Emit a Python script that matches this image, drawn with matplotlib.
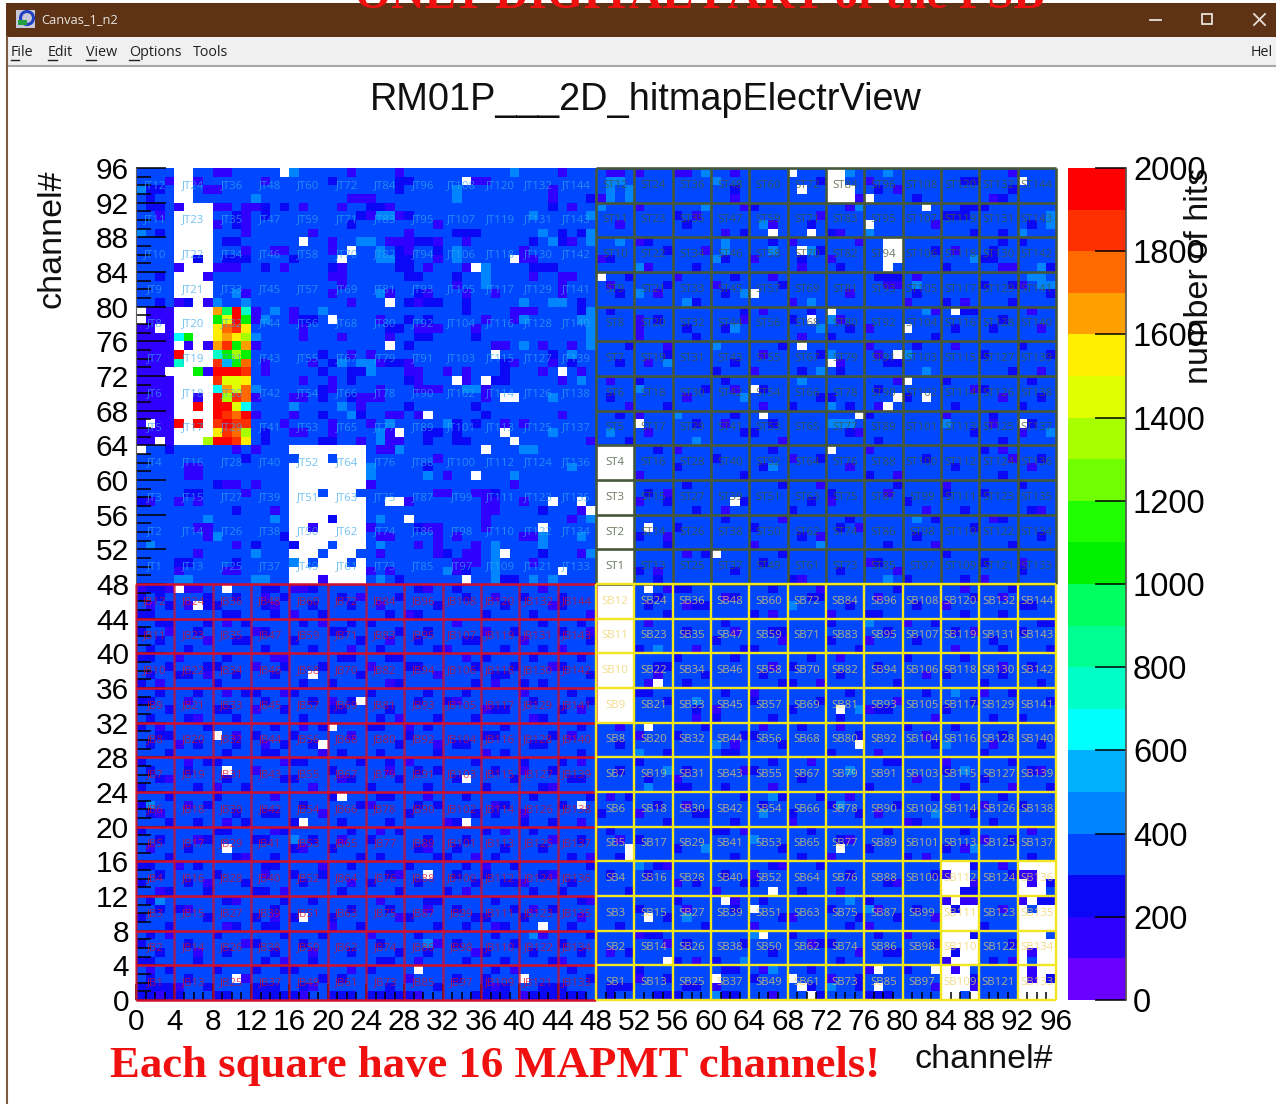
import matplotlib
matplotlib.use("Agg")
import matplotlib.pyplot as plt
import numpy as np
from matplotlib.colors import BoundaryNorm, ListedColormap
from matplotlib.patches import Circle, Rectangle

FIG_W, FIG_H = 1276, 1104
AX_LEFT, AX_RIGHT, AX_TOP, AX_BOTTOM = 136, 1056, 168, 1000

BAND_COLORS = [
    "#6a00ff", "#3000ff", "#0a08f5", "#0048ff", "#0084ff",
    "#00b0ff", "#00ffff", "#00ffc8", "#00ff90", "#00ff60",
    "#00f000", "#20ff00", "#70ff00", "#a8ff00", "#e0ff00",
    "#ffee00", "#ffa000", "#ff6a00", "#ff3000", "#ff0000",
]
BAND_EDGES = list(range(0, 2100, 100))
COLORBAR_TICKS = [0, 200, 400, 600, 800, 1000, 1200, 1400, 1600, 1800, 2000]
AXIS_TICKS = list(range(0, 100, 4))

# typical hits of a bin, and the bins that differ: row counted from the top, "a-b" = bin range
BASE_HITS = 350
DARK_HITS = 250
VIOLET_HITS = 150
LIGHT_HITS = 450

EMPTY_BINS = {
    0: "4-5 15 68 72-73", 1: "4-5 34 72-73 92", 2: "4-5 69 72-74", 3: "4-5 72-74 76",
    4: "5-7 82", 5: "4-7", 6: "4-7 76", 7: "4-7 66 70", 8: "4-7 17 78-79", 9: "4-7 22 69 78-79",
    10: "4-5 7 21 39 78-79", 11: "5-7 35 78", 12: "4-6 48", 13: "4-7", 14: "4-7 64", 15: "6 26",
    16: "0 72 85", 17: "0 20 70", 18: "2 80", 19: "", 20: "26 69", 21: "37 79", 22: "72", 23: "3 44",
    24: "33 36 80", 25: "64", 26: "38-39 79 82", 27: "78", 28: "30 65 75", 29: "1 52 92", 30: "27 38", 31: "2 39",
    32: "0 16-23 36 48-51 72", 33: "17-19 21-23 48-51", 34: "16-23 48-51", 35: "16-23 35 48-51",
    36: "16-23 48-51", 37: "16-18 20-22 48-51", 38: "16-23 26-27 43 46 48-51 62", 39: "16-23 47 48-51",
    40: "16-19 21-23 28 48-51", 41: "16-17 19-23 42 48-51 53", 42: "16-23 48-51", 43: "17-19 21-23 48-51",
    44: "16-18 20-22 38 48-51 60", 45: "17 19-21 23 48-51", 46: "16-23 44 48-51", 47: "16-18 20-23 34 48-51",
    48: "4 9 48-51 53", 49: "48-51", 50: "6 48-51", 51: "48-51", 52: "48-51", 53: "48-51", 54: "48-51", 55: "48-51",
    56: "48-51", 57: "48-51", 58: "18 48-51", 59: "48-51 54", 60: "48-51", 61: "23 48-51", 62: "48-51 73", 63: "48-51",
    64: "20 53", 65: "8", 66: "19 75", 69: "9", 70: "34", 72: "21", 73: "46", 75: "17 34",
    78: "9 51 73", 79: "51", 80: "84-86 92-95", 81: "30 85-86 94-95", 82: "84-86 92 94", 83: "66 84-85 92-94",
    84: "61 85 93", 85: "64 84 86-87 92 94-95", 86: "17 53 84-87 92-95", 87: "42 84-87 92-95", 88: "65 84-86 92-94",
    89: "84-87 92-95", 90: "84 86-87 92 94-95", 91: "55 85-87 92 94-95", 92: "29 77 83 84 86 92 94-95",
    93: "10 40 60 68 84-86 92 94", 94: "69 77 84-86 92-95", 95: "70 84-85 87 92-95",
}
# bins 4..11 of the hot patch, one letter per bin
HOT_START = 4
HOT_ROWS = {
    16: "____atRT", 17: "____GyRG", 18: "____YoOY", 19: "cG__YaYg", 20: "_v_vaOGa", 21: "R___TGgG",
    22: "T___O*Go", 23: "__GvRRRO", 24: "____OyyY", 25: "____cayo", 26: "__v_RgOo",
    27: "__R_RRyc", 28: "____ROoR", 29: "R_R_OROO", 30: "____YOog", 31: "___gRROY",
}
HOT_LEVELS = {
    "_": 0, "v": 150, "*": 550, "c": 650, "T": 750, "t": 950, "G": 1050, "g": 1350, "y": 1450,
    "Y": 1550, "a": 1650, "o": 1750, "O": 1850, "R": 1950,
}
DARK_BINS = {
    1: "20 27-28 49 71 86-87", 2: "1-2 27 62 77 91", 3: "1 47 81 90", 4: "1-2 13 15 24-25 43 64 86-88", 5: "10 13 23 28 56 84-86",
    6: "10 22 57 70 93", 7: "2 33-35 44 46 63 72 87 90", 8: "9-10 29-30 41 44 53 66 90 92", 9: "27 31 55 71 83 89",
    10: "6 9-11 16 27-28 49 60-61 69 87-89", 11: "13 20 27-28 41-43 58 73 84 94-95", 12: "2 28-29 33 51 56 62 77-79 93",
    13: "55 67 88 91", 14: "29 50 61 74 81 95", 15: "2 5 28 30-31 34 46 58 84 91", 16: "34 46 49 63 70 86-87", 17: "17-18 28 30 54 68 90",
    18: "26-27 57 61 74 85 89", 19: "29-30 35 47 58 72 83", 20: "28 51 67 81 92", 21: "19 43 55 71 88 95", 22: "20-21 26-27 38 45 50 62 78-79",
    23: "19 22-23 38 60 69 73 91", 24: "22 28 37-38 52 61 84 93", 25: "19 59 65 77 88", 26: "19 22 49 57 71-72 80 94", 27: "28 35 55 68 74 85 92",
    28: "19 23 36 50 62 75-76 89", 29: "33 35 58 66 84 93", 30: "13 30-31 33 53 63-64 74 87", 31: "13 19-20 30 33-34 51 77 90",
    32: "3 54 66 76 88", 33: "11 60 71 82 94", 34: "30 56 65 74 85", 35: "49 63 76 90", 36: "8 57 67 79 92", 37: "5-6 37 53 72 84 88",
    38: "0 40 55 63 70 80", 39: "10 42 58 68 86 93", 40: "20 61 74 83 90", 41: "29 56 64 73 87", 42: "15 52 69 81 94",
    43: "12 16 55 71 78 91", 44: "32 42 59 67 84", 45: "4-5 10 41 50 65 77 88", 46: "34 52 62 73 92", 47: "27 38-39 54 68 80 86",
    48: "1-2 5 13-14 17-18 29 33 56-57 66 79 91", 49: "0 2 7 10 15 21 27 34 40 44 54 62 70-71 87", 50: "3 7-8 13 18 22 31 38 44 53 58-59 74 81 92-93",
    51: "0-1 9-10 14 19 26 29 36 41 55 64 76-77 86 90", 52: "2-3 7 11 17 22 24 33 42 46 49 61 72 83 94-95", 53: "0 6 12-13 20-21 27 30 39 44 57 66-67 78 85 92",
    54: "2 10-11 16 23 29 34-35 47 51 60 72 81 89", 55: "1 5 13 18 25 31 38 42 52 63-64 75 90 95", 56: "0-1 9 21-22 26-27 36 41 46 56 62 70 80 86",
    57: "3 7-8 15 19 28-29 35 39 44 54-55 68 77 93", 58: "1 4-5 10 14 23 31 37-38 47 59 65 73 84 90", 59: "0 8 17 20 27 35 40 42 50 57 67-68 79 88 94",
    60: "2 6 11-12 16 24 30 34 45 52-53 61 74 82 91", 61: "0-1 13 18 22 29 32-33 41 47 55 64 71 87 95", 62: "3 8-9 15 20-21 26 37-38 44 58 68 77-78 84",
    63: "1 5 10 17 25 31 35 42 51 60 66 73 89 92", 64: "0 7 14 19 24-25 30 38 46 53 59 69 80 85", 65: "2-3 8 12 16 22 28 36-37 43 56 63-64 75 90",
    66: "1 6 10 15 18 27 33-34 41-42 50 60 67 83 94", 67: "3 9 13-14 21 25 31 38 46 55 61-62 72 88", 68: "0 7-8 16-17 23 26 35 40 44 52 66 78-79 91",
    69: "1 5 12 20 29 31 37 43 50 57 64 74 84 93", 70: "2 9 15-16 22 27 33 39 45-46 53 69 81 88", 71: "0 6 11 18 24 30 36 42 56-57 61 76 86 95",
    72: "3 8 14 20 25-26 34 41 47 51 63 67 71 83 90", 73: "0-1 7 17 23 29 31 38 44 54 65 72 79 92", 74: "1 10 13-14 19 28 35 37 48 58-59 68 75 87",
    75: "3 6 11 16 21 26 32-33 40 43 55 62 81 89", 76: "0 8-9 15 22 27 36 41 49 60-61 70 78 86", 77: "2 7 12-13 18 24 30 34 46 52 64 73-74 91",
    78: "1 5 16 20 29 33 38 42 56 59 67 76 84", 79: "3 10 14 23 25 31-32 37 45 50 62 69 80 93", 80: "0-1 6 13-14 22 28 34 39 47 54 66 71 87",
    81: "2 8 16 19 26 33 36 42 49 53 61 74 83 91", 82: "0 5 11 17 24 29 35 38-39 45 58 63-64 78 95", 83: "3 7 12-13 21 27 32 41 44 51 60 69 86-87",
    84: "1 9 15 18 25 30-31 37 46-47 56 65 76 94-95", 85: "2 4 14 22 26 33 39 43 52 62 72 81 85", 86: "0 7 12 16 20 28 35-36 40 55 67 75 79",
    87: "3 10 13-14 23 31 34 38 45 50 59 64 74 88", 88: "1 8 15 19 24 29 37 42 47 53-54 68 77 87", 89: "0 5 12 17 25 33 39 44 57 63 71-72 83 91",
    90: "2 9 14 22 27 30 36 41 46 51 66 78-79 85", 91: "0-1 6 13 18 25-26 34 38 43 56 60 73 89", 92: "3 8 12 15-16 24 29 37 45 52 61-62 70 80",
    93: "1 5 10 19 21 28 33 36 47 55 64 75 87 95", 94: "0-3 7 12-14 17 26 31 36-38 42-44 49-51 57-58 69-70 75 85", 95: "0-4 8-9 12-16 20-22 24-28 35-38 41-46 49 54-56 60-62 70-71 76-78",
}
VIOLET_BINS = {
    0: "8-9 22 27 44 49-50 52 56-57 62 91", 1: "3 6 13 35-36 60 76", 2: "7-8 43 51 69 79", 3: "22-23 24 43 48 62 75 89", 4: "4 8-9 11-12 17 21 26 45 52 63 74", 5: "2 11 24 27 58 71",
    6: "8 11 31 50 66 83", 7: "11 18 28 47 61 73", 8: "20 26-28 31 34 45 52 68 75", 9: "11 14-15 20 28 40 59 70 85", 10: "31 40-41 48 64 72",
    11: "4 8-10 15 21 30 34 53 69 90-91", 12: "7 20-21 41 44-45 56 66 81", 13: "21 33 44 49 60 78-79 92", 14: "11 20 26 30 34 37 44 54 74", 15: "4 7 22 29 57 68 80 86",
    16: "0-3 12 16 39-41 65 83 93", 17: "1-3 12 16 25 36 39 52 63 73", 18: "0-1 3 17 29-31 35 52 76 94", 19: "0-3 17 21 26 52 69", 20: "0-3 12 37-38 42 45 55 76 85",
    21: "0-3 22 24 65 77", 22: "0-3 13 18 25 28 39 43 53 73", 23: "0-2 13 28-29 32 34 42 46 64 94", 24: "0-3 17 20 29 34 44 49 79", 25: "0-3 20 25 29-31 36 62 87",
    26: "0-3 12 16-17 23 24-25 36 57 90", 27: "0-3 23 51 65 77", 28: "0-3 12 16 26-27 29 44 52 84", 29: "0-3 15 20 24 38 40 61 89", 30: "0-3 16-17 20 26 53 75 92", 31: "0-3 23 26-27 47 67",
    32: "10 12 25-26 56 76 90", 33: "31 68 91", 34: "5-6 50 74 93", 35: "5-6 32 52 79", 36: "9-10 12 24 39 71 84", 37: "11 31-32 35-36 55 78",
    38: "1 4 6 28 36-37 40 52 72", 39: "14 36-37 46 61 82 94", 40: "36 45 67 89", 41: "6-7 18 24 30-31 36 75", 42: "7 25-26 31 33 40-41 55 71", 43: "10 29 31 35 64 83",
    44: "6 25 31 34-35 46 57", 45: "33-35 41 76 92", 46: "4 9-10 24 26 33 54 79", 47: "19 69 88",
    48: "0 3 5-6 16-17 30 42 55 71 86", 49: "13 23 37 61 77 90", 50: "1 5 14 25 43 57 84", 51: "16 28 47 66 72", 52: "9 19 33 53 80",
    53: "3 12 36 47 62 87", 54: "7 26 40 67 76", 55: "22 32 44 58 85", 56: "4 14-15 34 49 73", 57: "12 24 43 66 90", 58: "7 18 31 54 82",
    59: "2 26 37 53 71", 60: "9 15 40 64 88", 61: "5 20 33 49 79", 62: "12 36 46 60 76", 63: "6 27 41 58 83", 64: "2 17 28 50 65 73",
    65: "10 22 45 52 82", 66: "4 13 31 62 89", 67: "19 36 52 77", 68: "5 15 28 46 70 84", 69: "12 26 40 63 94", 70: "3 21 34 56 81", 71: "8 18 43 66 91",
    72: "14 30 49 74 85", 73: "5 24 37 57 88", 74: "2 19 40 52 77", 75: "9 32 46 68 80", 76: "14 25 38 63 93", 77: "6 21 43 50 74 88",
    78: "1 17 30 59 86", 79: "11 35 47 72 82", 80: "4 19 36 55 67 90", 81: "13 27 43 64 84 92-93", 82: "7 22 40 56 79 87 93", 83: "2 15 34 60 73",
    84: "10 25 47 62 84 86-87 92", 85: "5 30 41 57 77 90", 86: "14 27 46 68 83", 87: "9 20 37 64 76", 88: "3 24 42 52 80", 89: "11 31 55 70 86",
    90: "6 18 35 49 75 93", 91: "15 29 44 58 84 91", 92: "1 22 39 65 76 85 93", 93: "11 28 52 72 93", 94: "4 18 37 60 83 87", 95: "2 17 29 40 66",
}
LIGHT_BINS = {
    0: "16 39 59 74 78", 1: "49-50 60", 2: "0 33 49 51 73", 3: "12 33 49 51", 4: "48 59 75 82", 5: "25-26 41 47 95", 6: "65 95", 7: "0 42 47 76 92",
    8: "23 24 43 47 50 61", 9: "25 33 61 66 70", 10: "25-26 33 60 79 87", 11: "36 52 94", 12: "36 93-94", 13: "36 81 94-95", 14: "10 25 52 63",
    15: "8 11 40 43-44 57 70", 16: "14 19 47 82", 17: "13 40 46-47 72", 18: "47 62 71", 19: "12 47", 20: "40 47 60", 21: "45 72 80", 22: "21 23 24 55",
    23: "24 71 82", 24: "46 69", 25: "12 34-35 52", 26: "43 63", 27: "16 21 72", 28: "22 56", 29: "26 32 72-74 84", 30: "25 43 49 95", 31: "25 58",
    32: "27 40-41", 34: "24 45 66", 35: "24 30 39", 40: "7 14 25 47 81", 42: "8 42 46", 43: "1 25 37 42 71", 44: "12 37 47", 45: "16 19 37", 46: "32 37",
    47: "4-5 12-13 25 37 41 43 78", 50: "68", 52: "76", 55: "54", 60: "85", 61: "58", 62: "75", 66: "60 84", 67: "52", 69: "55 74 86", 71: "53", 72: "66",
    73: "1 73", 74: "65 83", 77: "16 64", 78: "59 87", 80: "52", 81: "85", 84: "2 74", 85: "76", 86: "57", 88: "41 64", 89: "30", 91: "63 87", 92: "66", 94: "72", 95: "60",
}

JT_COLOR = "#35a8ee"
ST_COLOR = "#46583a"
JB_COLOR = "#d0102c"
SB_COLOR = "#f0d060"
TILE_EDGES_LOW = list(range(0, 52, 4))
TILE_EDGES_HIGH = list(range(48, 100, 4))


def px_x(value):
    return value / FIG_W


def px_y(value):
    return 1 - value / FIG_H


def parse_bins(text):
    bins = []
    for part in text.split():
        if "-" in part:
            first, last = part.split("-")
            bins.extend(range(int(first), int(last) + 1))
        else:
            bins.append(int(part))
    return bins


def hit_matrix():
    hits = np.full((96, 96), float(BASE_HITS))
    for table, level in [(DARK_BINS, DARK_HITS), (VIOLET_BINS, VIOLET_HITS), (LIGHT_BINS, LIGHT_HITS), (EMPTY_BINS, 0)]:
        for row, text in table.items():
            hits[row, parse_bins(text)] = level
    for row, cells in HOT_ROWS.items():
        for offset, cell in enumerate(cells):
            hits[row, HOT_START + offset] = HOT_LEVELS[cell]
    return np.ma.masked_equal(hits, 0)


def draw_window(chrome):
    chrome.set_xlim(0, FIG_W)
    chrome.set_ylim(FIG_H, 0)
    chrome.axis("off")
    chrome.add_patch(Rectangle((6, 3), FIG_W, 34, color="#5e3214", lw=0))
    chrome.add_patch(Rectangle((7, 37), FIG_W, 28, color="#f0f0f0", lw=0))
    chrome.plot([7, FIG_W], [65.5, 65.5], color="#a8a8a8", lw=1.5)
    chrome.plot([6.5, 6.5], [37, FIG_H], color="#7a5a40", lw=1.5)

    chrome.add_patch(Rectangle((16, 10), 19, 18, color="#c8c8d8", lw=0))
    chrome.add_patch(Circle((27, 18), 6.5, fc="none", ec="#2040c0", lw=2.2))
    chrome.add_patch(Rectangle((18, 20), 9, 5, color="#20a040", lw=0))
    chrome.text(41, 20, "Canvas_1_n2", color="#e8e4e0", fontsize=9.3, family="Open Sans", va="center")
    chrome.plot([1150, 1161], [19.5, 19.5], color="#e8e0d8", lw=1.3)
    chrome.add_patch(Rectangle((1202, 14), 10, 10, fc="none", ec="#e8e0d8", lw=1.3))
    chrome.plot([1254, 1265], [14, 25], color="#e8e0d8", lw=1.3)
    chrome.plot([1254, 1265], [25, 14], color="#e8e0d8", lw=1.3)

    for label, x_pos, under in [
        ("File", 11, 8), ("Edit", 48, 9), ("View", 86, 10), ("Options", 129, 10), ("Tools", 193, 0), ("Hel", 1251, 0),
    ]:
        chrome.text(x_pos, 52, label, color="#202020", fontsize=10.3, family="Open Sans", va="center")
        if under:
            chrome.plot([x_pos, x_pos + under], [59.5, 59.5], color="#202020", lw=1)

    chrome.text(355, 8, "ONLY DIGITAL PART of the PSB", color="#f01010", fontsize=33.5,
                family="Liberation Serif", weight="bold", va="baseline")
    chrome.text(646, 100, "RM01P___2D_hitmapElectrView", color="#101010", fontsize=27.3,
                family="Liberation Sans", ha="center", va="center")
    chrome.text(110, 1066, "Each square have 16 MAPMT channels!", color="#f01010", fontsize=32.2,
                family="Liberation Serif", weight="bold", va="center")
    chrome.text(1053, 1060, "channel#", color="#101010", fontsize=24.5,
                family="Liberation Sans", ha="right", va="center")
    chrome.text(52, 169, "channel#", color="#101010", fontsize=24.5, rotation=90,
                family="Liberation Sans", ha="center", va="top")
    chrome.text(1200, 168, "number of hits", color="#101010", fontsize=24.6, rotation=90,
                family="Liberation Sans", ha="center", va="top", zorder=5)


def draw_tile_labels(ax, prefix, color, x_start, y_start, alpha):
    for col in range(12):
        for row in range(12):
            ax.text(x_start + 4 * col + 2, y_start + 4 * row + 2, "{0}{1}".format(prefix, 12 * col + row + 1),
                    color=color, alpha=alpha, fontsize=8.2, family="Open Sans",
                    ha="center", va="center", zorder=6)


def draw_tile_grid(ax, x_edges, y_edges, color, h_alpha, v_alpha, width):
    ax.hlines(y_edges, x_edges[0], x_edges[-1], colors=color, alpha=h_alpha, lw=width, zorder=5, clip_on=False)
    ax.vlines(x_edges, y_edges[0], y_edges[-1], colors=color, alpha=v_alpha, lw=width, zorder=5, clip_on=False)


def main():
    fig = plt.figure(figsize=(FIG_W / 100, FIG_H / 100), dpi=100, facecolor="white")
    chrome = fig.add_axes([0, 0, 1, 1])
    draw_window(chrome)

    ax = fig.add_axes([
        px_x(AX_LEFT), px_y(AX_BOTTOM),
        px_x(AX_RIGHT - AX_LEFT), (AX_BOTTOM - AX_TOP) / FIG_H,
    ])
    cmap = ListedColormap(BAND_COLORS)
    cmap.set_bad("white")
    norm = BoundaryNorm(BAND_EDGES, cmap.N)
    image = ax.imshow(hit_matrix(), cmap=cmap, norm=norm, origin="upper", extent=(0, 96, 0, 96),
                      aspect="auto", interpolation="nearest")

    ax.set_xticks(AXIS_TICKS)
    ax.set_yticks(AXIS_TICKS)
    ax.set_xticks(range(97), minor=True)
    ax.set_yticks(range(97), minor=True)
    for label in ax.get_xticklabels() + ax.get_yticklabels():
        label.set_family("Liberation Sans")
    ax.tick_params(axis="x", which="major", direction="in", length=11.5, width=1.1, labelsize=21.5, pad=5.5)
    ax.tick_params(axis="x", which="minor", direction="in", length=5.8, width=1.1)
    ax.tick_params(axis="y", which="major", direction="in", length=21.6, width=1.1, labelsize=21.5, pad=5)
    ax.tick_params(axis="y", which="minor", direction="in", length=10.8, width=1.1)
    for name, spine in ax.spines.items():
        spine.set_visible(name == "left")
        spine.set_color("#606060")

    draw_tile_grid(ax, TILE_EDGES_HIGH, TILE_EDGES_HIGH, ST_COLOR, 1.0, 1.0, 1.9)
    draw_tile_grid(ax, TILE_EDGES_LOW, TILE_EDGES_LOW, JB_COLOR, 1.0, 0.75, 1.8)
    draw_tile_grid(ax, TILE_EDGES_HIGH, TILE_EDGES_LOW, "#f2e61e", 1.0, 1.0, 1.7)

    draw_tile_labels(ax, "JT", JT_COLOR, 0, 48, 0.7)
    draw_tile_labels(ax, "ST", ST_COLOR, 48, 48, 0.8)
    draw_tile_labels(ax, "JB", JB_COLOR, 0, 0, 0.75)
    draw_tile_labels(ax, "SB", SB_COLOR, 48, 0, 0.75)

    cax = fig.add_axes([
        px_x(1068), px_y(AX_BOTTOM),
        px_x(58), (AX_BOTTOM - AX_TOP) / FIG_H,
    ])
    bar = fig.colorbar(image, cax=cax, ticks=COLORBAR_TICKS, spacing="proportional")
    bar.outline.set_visible(False)
    cax.minorticks_off()
    cax.tick_params(axis="y", direction="in", length=22, width=1.1, labelsize=23.6, pad=5)
    for label in cax.get_yticklabels():
        label.set_family("Liberation Sans")
    cax.plot([1, 1], [0, 1], transform=cax.transAxes, color="#505050", lw=1.2, clip_on=False)

    fig.savefig("out.png", dpi=100, facecolor="white")


main()
